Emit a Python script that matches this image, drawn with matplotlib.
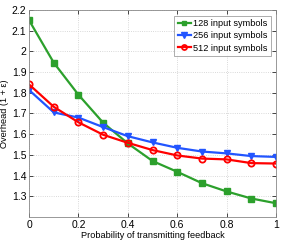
import numpy as np
import matplotlib.pyplot as plt

p_feedback = [0.0, 0.1, 0.2, 0.3, 0.4, 0.5, 0.6, 0.7, 0.8, 0.9, 1.0]
oh_128 = [2.15, 1.945, 1.79, 1.655, 1.555, 1.47, 1.418, 1.363, 1.323, 1.289, 1.266]
oh_256 = [1.813, 1.705, 1.68, 1.634, 1.59, 1.56, 1.534, 1.516, 1.507, 1.494, 1.49]
oh_512 = [1.84, 1.732, 1.657, 1.597, 1.558, 1.523, 1.497, 1.482, 1.478, 1.46, 1.458]
labels = ['128 input symbols', '256 input symbols', '512 input symbols']

plt.rcParams['font.family'] = ['Liberation Sans', 'DejaVu Sans']
plt.rcParams['font.size'] = 6.6

fig = plt.figure(figsize=(2.94, 2.44), dpi=100)
ax = fig.add_axes([0.099, 0.111, 0.84, 0.848])

ax.plot(p_feedback, oh_128, color='#2ca02c', marker='s', ms=4, lw=1.6, label=labels[0])
ax.plot(p_feedback, oh_256, color='#2255ff', marker='v', ms=5, lw=1.6, label=labels[1])
ax.plot(p_feedback, oh_512, color='#ff0000', marker='o', ms=4.5, mfc='none', mew=1.3,
        lw=1.6, label=labels[2])

ax.set_xlim(0, 1)
ax.set_ylim(1.2, 2.2)
ax.set_xticks([0, 0.2, 0.4, 0.6, 0.8, 1])
ax.set_xticklabels(['0', '0.2', '0.4', '0.6', '0.8', '1'], fontsize=7.5)
ax.set_yticks(np.arange(1.3, 2.21, 0.1))
ax.set_yticklabels(['1.3', '1.4', '1.5', '1.6', '1.7', '1.8', '1.9', '2', '2.1', '2.2'],
                   fontsize=7.5)
ax.grid(True, ls=':', color='#cccccc', lw=0.6)
ax.tick_params(direction='in', length=3, top=True, right=True, width=0.5, pad=2)
for s in ax.spines.values():
    s.set_color('#888888')
    s.set_linewidth(0.6)

ax.set_xlabel('Probability of transmitting feedback', labelpad=1)
ax.set_ylabel('Overhead (1 + ε)', labelpad=2)

leg = ax.legend(loc='upper right', fancybox=False, handlelength=1.4, handletextpad=0.2,
                borderpad=0.4, labelspacing=0.35, borderaxespad=0.6, markerscale=0.8)
leg.get_frame().set_edgecolor('#888888')
leg.get_frame().set_linewidth(0.6)

fig.savefig('out.png', dpi=100)
